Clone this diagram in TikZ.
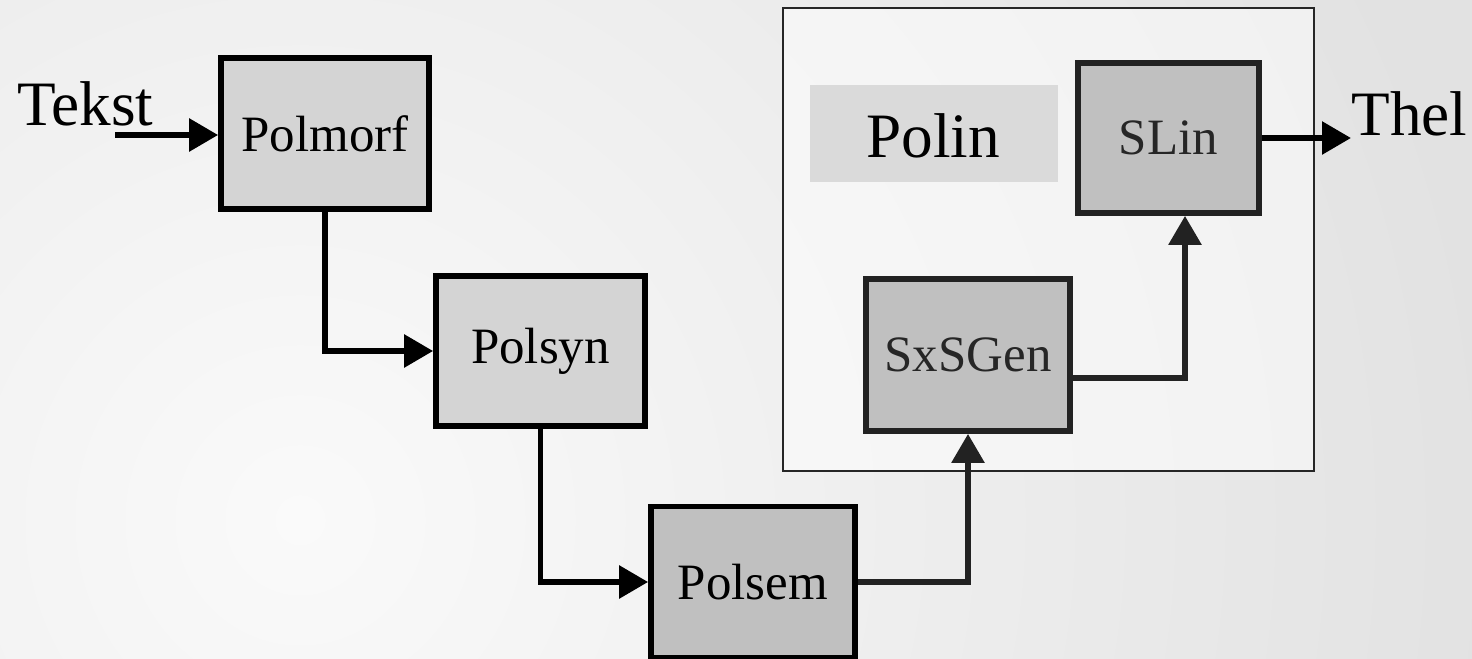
\documentclass[tikz,border=0pt]{standalone}
\usepackage{fontspec}
\setmainfont{Liberation Serif}
\usetikzlibrary{arrows.meta}
\definecolor{bglight}{RGB}{250,250,250}
\definecolor{bgdark}{RGB}{226,226,226}
\definecolor{boxlight}{RGB}{212,212,212}
\definecolor{boxdark}{RGB}{192,192,192}
\definecolor{edgedark}{RGB}{34,34,34}
\definecolor{polinfill}{RGB}{218,218,218}
\tikzset{
  stagebox/.style={draw=black, line width=3.3pt, inner sep=0pt, font=\fontsize{29}{29}\selectfont},
  lightbox/.style={stagebox, fill=boxlight},
  darkbox/.style={stagebox, fill=boxdark},
  darkerbox/.style={stagebox, fill=boxdark, draw=edgedark, text=black!85},
  flow/.style={line width=3.3pt, -{Triangle[length=0.58cm, width=0.64cm]}},
  darkflow/.style={flow, draw=edgedark},
  biglabel/.style={inner sep=0pt, font=\fontsize{36}{36}\selectfont}
}
\begin{document}
\begin{tikzpicture}[x=0.02cm, y=-0.02cm]
\useasboundingbox (0,0) rectangle (1472,659);
% background
\begin{scope}
\clip (0,0) rectangle (1472,659);
\fill[bgdark] (0,0) rectangle (1472,659);
\shade[inner color=bglight, outer color=bgdark] (300,520) circle [radius=1200];
\end{scope}
% Polin container
\draw[line width=0.8pt, draw=black!85, fill=white, fill opacity=0.5] (783,8) rectangle (1314,471);
\node[fill=polinfill, minimum width=4.96cm, minimum height=1.94cm, inner sep=0pt] (polinbg) at (934,133.5) {};
\node[biglabel] (polin) at (933,136) {Polin};
% stages
\node[lightbox, minimum width=4.16cm, minimum height=3.02cm] (polmorf) at (325,133.5) {Polmorf};
\node[lightbox, minimum width=4.18cm, minimum height=3.0cm] (polsyn) at (540.5,351) {Polsyn};
\node[darkbox, minimum width=4.08cm, minimum height=3.02cm] (polsem) at (753,582) {Polsem};
\node[darkerbox, minimum width=4.08cm, minimum height=3.04cm] (sxsgen) at (968,355) {SxSGen};
\node[darkerbox, minimum width=3.62cm, minimum height=3.0cm] (slin) at (1168.5,138) {SLin};
% in/out labels
\node[biglabel, anchor=base west] (tekst) at (17,125) {Tekst};
\node[biglabel, anchor=base west] (thel) at (1351,135) {Thel};
\coordinate (tin) at (115,135);
\coordinate (tout) at (1351,138);
% connectors
\draw[flow] (tin) -- (tin -| polmorf.west);
\draw[flow] (polmorf.south) |- (polsyn.west);
\draw[flow] (polsyn.south) |- (polsem.west);
\draw[darkflow] (polsem.east) -| (sxsgen.south);
\draw[darkflow] ([yshift=-0.46cm]sxsgen.east) -| ([xshift=0.33cm]slin.south);
\draw[flow] (slin.east) -- (tout);
\end{tikzpicture}
\end{document}
